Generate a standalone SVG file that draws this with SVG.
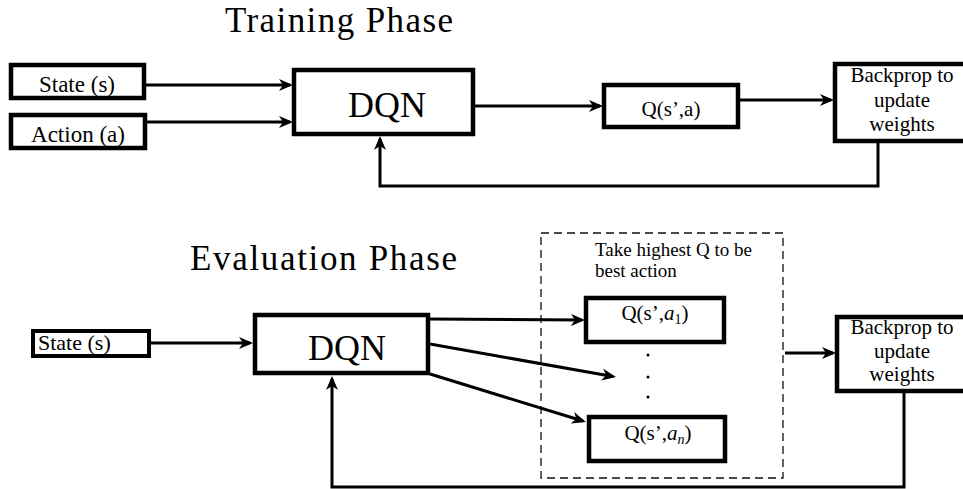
<svg xmlns="http://www.w3.org/2000/svg" width="963" height="489" viewBox="0 0 963 489">
<style>
text{font-family:"Liberation Serif","Times New Roman",serif;fill:#000}
.box{fill:#fff;stroke:#000;stroke-width:4.5}
.title{font-size:35px;text-anchor:middle}
.lbl{font-size:23px;text-anchor:middle}
.sm{font-size:21px;text-anchor:middle}
.big{font-size:36px;text-anchor:middle}
.con{fill:none;stroke:#000;stroke-width:3}
</style>
<defs>
<marker id="ah" markerUnits="userSpaceOnUse" markerWidth="15" markerHeight="13" refX="11" refY="6" orient="auto">
<path d="M0,0 L14,6 L0,12 L4,6 Z" fill="#000"/>
</marker>
</defs>
<rect width="963" height="489" fill="#fff"/>

<text class="title" x="339" y="32" textLength="228">Training Phase</text>
<text class="title" x="323.5" y="270" textLength="267">Evaluation Phase</text>

<g id="t-state"><rect class="box" x="11" y="65" width="133" height="33"/><text class="lbl" x="77" y="92">State (s)</text></g>
<g id="t-action"><rect class="box" x="11" y="115" width="134" height="33"/><text class="lbl" x="78" y="142">Action (a)</text></g>
<g id="t-dqn"><rect class="box" x="294" y="70" width="179" height="64"/><text class="big" x="387" y="117">DQN</text></g>
<g id="t-q"><rect class="box" x="604" y="85" width="134" height="42"/><text class="sm" x="671" y="116">Q(s’,a)</text></g>
<g id="t-bp"><rect class="box" x="835" y="64" width="140" height="77"/>
<text class="sm" x="902" y="82">Backprop to</text><text class="sm" x="902" y="107">update</text><text class="sm" x="902" y="131">weights</text></g>

<g id="e-group"><rect x="541" y="233" width="242" height="245" fill="none" stroke="#111" stroke-width="1.3" stroke-dasharray="8 5"/>
<text x="595" y="256" font-size="19">Take highest Q to be</text><text x="595" y="277" font-size="19">best action</text></g>
<g id="e-state"><rect class="box" x="33" y="331" width="116" height="25" style="stroke-width:4"/><text x="38" y="350" font-size="22">State (s)</text></g>
<g id="e-dqn"><rect class="box" x="255" y="315" width="173" height="58"/><text class="big" x="347" y="360">DQN</text></g>
<g id="e-q1"><rect class="box" x="586" y="298" width="138" height="44"/><text class="sm" x="655" y="320">Q(s’,<tspan font-style="italic">a</tspan><tspan font-size="14" dy="4">1</tspan><tspan dy="-4">)</tspan></text></g>
<g id="e-dots"><circle cx="648" cy="355" r="1.5"/><circle cx="648" cy="377" r="1.5"/><circle cx="648" cy="397" r="1.5"/></g>
<g id="e-qn"><rect class="box" x="589" y="417" width="136" height="44"/><text class="sm" x="658" y="440">Q(s’,<tspan font-style="italic">a</tspan><tspan font-size="14" font-style="italic" dy="4">n</tspan><tspan dy="-4">)</tspan></text></g>
<g id="e-bp"><rect class="box" x="837" y="317" width="140" height="74"/>
<text class="sm" x="902" y="334">Backprop to</text><text class="sm" x="902" y="358">update</text><text class="sm" x="902" y="381">weights</text></g>

<g id="connectors">
<path class="con" d="M146,85 H290" marker-end="url(#ah)"/>
<path class="con" d="M147,122 H290" marker-end="url(#ah)"/>
<path class="con" d="M475,106 H600" marker-end="url(#ah)"/>
<path class="con" d="M740,100 H831" marker-end="url(#ah)"/>
<path class="con" d="M878,143 V186 H380 V139" marker-end="url(#ah)"/>
<path class="con" d="M151,343 H250" marker-end="url(#ah)"/>
<path class="con" d="M430,319 L582,320" marker-end="url(#ah)"/>
<path class="con" d="M430,344 L613,376.5" marker-end="url(#ah)"/>
<path class="con" d="M430,374 L583,421" marker-end="url(#ah)"/>
<path class="con" d="M785,353 H833" marker-end="url(#ah)"/>
<path class="con" d="M904,393 V487 H332 V379" marker-end="url(#ah)"/>
</g>
</svg>
